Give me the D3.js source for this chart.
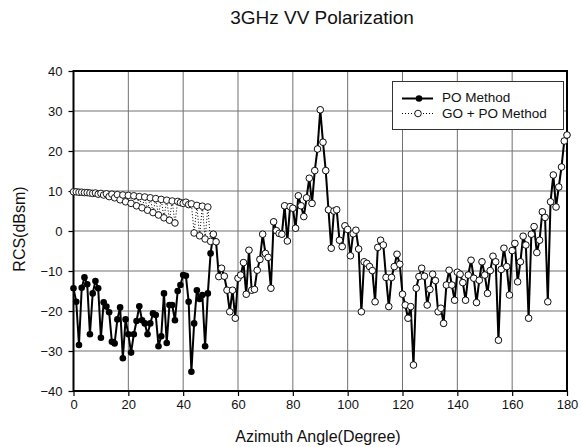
<!DOCTYPE html>
<html>
<head>
<meta charset="utf-8">
<script src="https://cdn.jsdelivr.net/npm/d3@7"></script>
<style>
  html, body { margin: 0; padding: 0; background: #fff; }
  svg { display: block; font-family: "Liberation Sans", Arial, sans-serif; }
</style>
</head>
<body>
<svg id="chart" width="582" height="447"></svg>
<script>
// ---- data ----
const title = "3GHz VV Polarization";
const xLabel = "Azimuth Angle(Degree)";
const yLabel = "RCS(dBsm)";
const seriesNames = ["PO Method", "GO + PO Method"];
const xTicks = [0, 20, 40, 60, 80, 100, 120, 140, 160, 180];
const yTicks = [-40, -30, -20, -10, 0, 10, 20, 30, 40];

// angles 0..50, PO method
const poLow = [
  -14.3, -17.7, -28.5, -14.2, -11.6, -13.3, -25.8, -15.6, -12.5, -14.3,
  -26.7, -17.8, -18.9, -20.3, -27.7, -28.1, -22.1, -19.1, -31.8, -22.1,
  -25.8, -30.4, -25.8, -22.5, -18.8, -22.3, -23.1, -25.8, -23.1, -20.6,
  -21.0, -28.8, -26.3, -15.6, -28.0, -18.5, -18.5, -22.3, -15.0, -13.5,
  -11.0, -11.2, -17.7, -35.2, -23.1, -14.8, -17.0, -16.0, -28.8, -15.6,
  -5.6
];
// angles 0..50, GO + PO method
const goLow = [
  9.8, 9.8, 9.7, 9.7, 9.6, 9.6, 9.5, 9.4, 9.5, 9.2,
  9.4, 9.0, 9.3, 8.6, 9.2, 8.3, 9.1, 7.8, 9.0, 7.3,
  8.9, 6.9, 8.8, 6.3, 8.6, 5.8, 8.5, 5.2, 8.3, 4.6,
  8.1, 4.0, 7.9, 3.3, 7.7, 2.7, 7.5, 2.0, 7.4, 7.1,
  6.9, 7.2, 6.6, 6.8, -0.5, 6.4, -1.2, 6.2, -2.0, 6.0,
  -2.6
];
// angles 51..180, both methods coincide
const shared = [
  -0.8, -2.7, -11.4, -9.3, -11.3, -14.8, -20.2, -14.8, -21.8,        // 51-59
  -11.8, -11.0, -7.9, -15.8, -4.8, -14.8, -14.6, -9.8, -7.1, -0.8,   // 60-69
  -5.6, -6.6, -14.3, 2.3, 0.1, -0.6, -0.8, 6.3, -2.5, 6.1,           // 70-79
  5.7, 0.7, 8.8, 6.3, 3.6, 8.3, 13.2, 6.9, 15.1, 20.5,               // 80-89
  30.3, 22.2, 15.1, 5.3, -4.3, 5.0, 5.3, -2.3, -3.9, 1.3,            // 90-99
  0.4, -6.2, -0.7, 0.2, -4.5, -20.2, -7.7, -8.1, -8.9, -9.9,         // 100-109
  -17.7, -4.1, -2.3, -3.5, -11.6, -18.9, -11.6, -8.9, -5.8, -8.3,    // 110-119
  -15.8, -18.5, -21.8, -18.9, -33.5, -14.3, -11.4, -9.3, -11.3, -18.5, // 120-129
  -14.6, -10.8, -12.4, -20.2, -19.3, -23.1, -13.5, -9.8, -13.5, -17.3, // 130-139
  -10.3, -10.8, -12.9, -17.3, -11.0, -7.3, -11.8, -17.9, -12.3, -7.7,  // 140-149
  -11.0, -15.6, -9.9, -6.3, -7.7, -27.3, -9.6, -4.3, -8.9, -16.0,      // 150-159
  -4.9, -3.1, -12.7, -7.7, -1.3, -3.5, -21.8, -0.8, 1.1, -5.4,         // 160-169
  -2.3, 4.8, 3.4, -17.7, 7.3, 14.0, 6.0, 11.0, 16.0, 22.5,             // 170-179
  24.0                                                                // 180
];

const poValues = poLow.concat(shared);
const goValues = goLow.concat(shared);
const angles = poValues.map((d, i) => i);

// ---- layout ----
const svg = d3.select("#chart");
const x = d3.scaleLinear().domain([0, 180]).range([73.5, 567]);
const y = d3.scaleLinear().domain([-40, 40]).range([391, 71]);

// title
svg.append("text").attr("x", 322).attr("y", 24)
  .attr("text-anchor", "middle").attr("font-size", 19).attr("fill", "#111")
  .text(title);

// grid
const grid = svg.append("g");
grid.selectAll(".vg").data(xTicks.slice(1, -1)).enter().append("line")
  .attr("x1", d => x(d)).attr("x2", d => x(d))
  .attr("y1", y(40)).attr("y2", y(-40))
  .attr("stroke", "#707070").attr("stroke-width", 1);
grid.selectAll(".hg").data(yTicks.slice(1, -1)).enter().append("line")
  .attr("x1", x(0)).attr("x2", x(180))
  .attr("y1", d => y(d)).attr("y2", d => y(d))
  .attr("stroke", "#707070").attr("stroke-width", 1);

// axes
const xAxis = svg.append("g").attr("transform", `translate(0,${y(-40)})`)
  .call(d3.axisBottom(x).tickValues(xTicks).tickSize(5).tickPadding(4).tickSizeOuter(0));
const yAxis = svg.append("g").attr("transform", `translate(${x(0)},0)`)
  .call(d3.axisLeft(y).tickValues(yTicks).tickSize(5).tickPadding(6).tickSizeOuter(0));
[xAxis, yAxis].forEach(a => {
  a.select(".domain").remove();
  a.selectAll("line").attr("stroke", "#000").attr("stroke-width", 1.2);
  a.selectAll("text").attr("font-size", 13).attr("fill", "#111")
    .attr("font-family", "'Liberation Sans', Arial, sans-serif");
});

// frame
svg.append("rect").attr("x", x(0)).attr("y", y(40))
  .attr("width", x(180) - x(0)).attr("height", y(-40) - y(40))
  .attr("fill", "none").attr("stroke", "#000").attr("stroke-width", 2);

// axis labels
svg.append("text").attr("x", 318).attr("y", 442)
  .attr("text-anchor", "middle").attr("font-size", 16).attr("fill", "#111")
  .text(xLabel);
svg.append("text").attr("transform", "translate(25,229) rotate(-90)")
  .attr("text-anchor", "middle").attr("font-size", 16).attr("fill", "#111")
  .text(yLabel);

// PO series
const line = d3.line().x((d, i) => x(angles[i])).y(d => y(d));
svg.append("path").datum(poValues).attr("d", line)
  .attr("fill", "none").attr("stroke", "#000").attr("stroke-width", 2);
svg.append("g").selectAll("circle").data(poValues).enter().append("circle")
  .attr("cx", (d, i) => x(angles[i])).attr("cy", d => y(d)).attr("r", 3.3)
  .attr("fill", "#000");

// GO + PO series
svg.append("path").datum(goValues).attr("d", line)
  .attr("fill", "none").attr("stroke", "#000").attr("stroke-width", 1)
  .attr("stroke-dasharray", "1,2");
svg.append("g").selectAll("circle").data(goValues).enter().append("circle")
  .attr("cx", (d, i) => x(angles[i])).attr("cy", d => y(d)).attr("r", 3.3)
  .attr("fill", "#fff").attr("stroke", "#000").attr("stroke-width", 0.9);

// legend
const lg = svg.append("g");
lg.append("rect").attr("x", 392.5).attr("y", 81.5).attr("width", 171).attr("height", 48)
  .attr("fill", "#fff").attr("stroke", "#333").attr("stroke-width", 1);
lg.append("line").attr("x1", 402).attr("x2", 433).attr("y1", 98.5).attr("y2", 98.5)
  .attr("stroke", "#000").attr("stroke-width", 2);
lg.append("circle").attr("cx", 419).attr("cy", 98.5).attr("r", 3.3).attr("fill", "#000");
lg.append("line").attr("x1", 402).attr("x2", 433).attr("y1", 113.5).attr("y2", 113.5)
  .attr("stroke", "#000").attr("stroke-width", 1).attr("stroke-dasharray", "1,2");
lg.append("circle").attr("cx", 418).attr("cy", 113.5).attr("r", 3.3)
  .attr("fill", "#fff").attr("stroke", "#000").attr("stroke-width", 0.9);
lg.append("text").attr("x", 442).attr("y", 102).attr("font-size", 13.5).attr("fill", "#111")
  .text(seriesNames[0]);
lg.append("text").attr("x", 442).attr("y", 117.5).attr("font-size", 13.5).attr("fill", "#111")
  .text(seriesNames[1]);
</script>
</body>
</html>
